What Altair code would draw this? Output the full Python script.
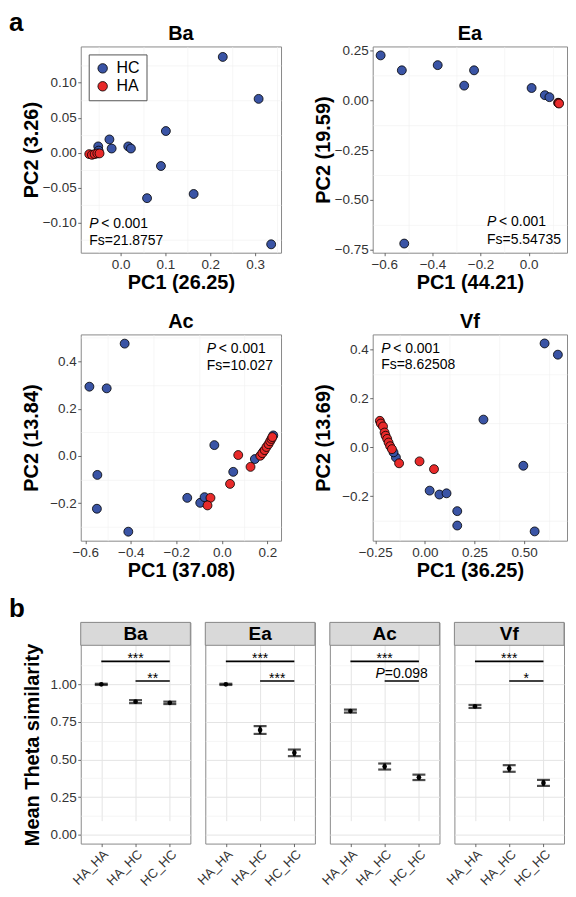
import altair as alt
import pandas as pd

FONT = "Liberation Sans"
BLUE = "#3A54A5"
RED = "#E82A2A"
GRID = "#E4E4E4"
GRID_MINOR = "#F0F0F0"
BORDER = "#8A8A8A"

groups = ["HC", "HA"]
p_text = "< 0.001"
panel_letters = ["a", "b"]

# ---------------- panel a : PCoA ----------------
ba_hc_x = [0.228, 0.308, 0.101, -0.025, -0.020, -0.050, -0.049, 0.017, 0.023, 0.090, 0.163, 0.059, 0.336]
ba_hc_y = [0.137, 0.077, 0.031, 0.019, 0.006, 0.009, 0.003, 0.009, 0.006, -0.019, -0.059, -0.065, -0.131]
ba_ha_x = [-0.070, -0.064, -0.058, -0.052, -0.047]
ba_ha_y = [-0.002, -0.003, -0.002, -0.001, -0.001]

ea_hc_x = [-0.615, -0.527, -0.378, -0.268, -0.227, 0.012, 0.067, 0.086, -0.517]
ea_hc_y = [0.227, 0.152, 0.178, 0.075, 0.152, 0.063, 0.027, 0.017, -0.719]
ea_ha_x = [0.122, 0.124, 0.126]
ea_ha_y = [-0.011, -0.013, -0.015]

ac_hc_x = [-0.427, -0.582, -0.506, -0.033, -0.547, -0.549, -0.411, -0.152, -0.095, -0.076, 0.050, 0.145, 0.182, 0.226]
ac_hc_y = [0.475, 0.293, 0.286, 0.046, -0.080, -0.223, -0.320, -0.177, -0.198, -0.174, -0.067, -0.013, 0.018, 0.087]
ac_ha_x = [-0.050, -0.063, 0.036, 0.126, 0.169, 0.072, 0.178, 0.188, 0.196, 0.205, 0.212, 0.218, 0.222]
ac_ha_y = [-0.177, -0.209, -0.118, -0.046, 0.001, 0.004, 0.012, 0.025, 0.038, 0.050, 0.062, 0.072, 0.080]

vf_hc_x = [0.603, 0.670, 0.295, -0.146, -0.158, 0.496, 0.024, 0.073, 0.109, 0.163, 0.163, 0.553]
vf_hc_y = [0.426, 0.380, 0.114, -0.041, -0.020, -0.075, -0.177, -0.193, -0.188, -0.261, -0.320, -0.344]
vf_ha_x = [-0.227, -0.222, -0.211, -0.203, -0.198, -0.190, -0.183, -0.175, -0.166, -0.130, -0.027, 0.046]
vf_ha_y = [0.109, 0.098, 0.086, 0.061, 0.048, 0.035, 0.020, 0.005, -0.007, -0.065, -0.057, -0.089]

# ---------------- panel b : mean theta similarity ----------------
comparisons = ["HA_HA", "HA_HC", "HC_HC"]
ba_mean = [1.000, 0.885, 0.877]
ba_se = [0.004, 0.010, 0.008]
ea_mean = [1.000, 0.696, 0.544]
ea_se = [0.004, 0.026, 0.022]
ac_mean = [0.822, 0.453, 0.381]
ac_se = [0.010, 0.020, 0.018]
vf_mean = [0.853, 0.440, 0.344]
vf_se = [0.010, 0.022, 0.020]
sig_from = [1, 2]
sig_to = [3, 3]
sig_y = [1.153, 1.022]
ba_sig = ["***", "**"]
ea_sig = ["***", "***"]
ac_sig = ["***", "P=0.098"]
vf_sig = ["***", "*"]

ROW_STEP = 289      # distance between the tops of the rows of plots
PLOT_H = 207
STRIP_H = 23
BPLOT_H = 199
LETTER_X = -72


def minor_axis(vals, orient):
    return alt.Axis(values=vals, grid=True, gridColor=GRID_MINOR, gridWidth=0.6, labels=False,
                    ticks=False, domain=False, title=None, orient=orient)


def scatter(name, hcx, hcy, hax, hay, xdom, ydom, xt, yt, xmin, ymin, xf, yf, xtitle, ytitle,
            annx, anny1, anny2, fs, w, ytp, legend=False):
    pts = pd.DataFrame({"pc1": hcx + hax, "pc2": hcy + hay,
                        "grp": ["HC"] * len(hcx) + ["HA"] * len(hax)})
    ann = pd.DataFrame({"ax": [annx], "ay1": [anny1], "ay2": [anny2], "p": ["P"], "lt": [p_text], "fs": [fs]})
    xs = alt.Scale(domain=xdom, nice=False, zero=False)
    ys = alt.Scale(domain=ydom, nice=False, zero=False)
    if legend:
        leg = alt.Legend(orient="top-left", offset=8, title=None, padding=6, strokeColor="#555",
                         fillColor="white", labelFontSize=16, labelColor="black", symbolSize=90,
                         symbolStrokeColor="black", symbolStrokeWidth=0.8, rowPadding=2,
                         labelOffset=6, symbolType="circle")
    else:
        leg = None
    pts_layer = alt.Chart(pts).mark_circle(size=80, opacity=1, stroke="black", strokeWidth=0.8).encode(
        x=alt.X("pc1:Q", scale=xs, axis=alt.Axis(values=xt, format=xf, title=xtitle, titlePadding=2,
                                                 orient="bottom")),
        y=alt.Y("pc2:Q", scale=ys, axis=alt.Axis(values=yt, format=yf, title=ytitle, titlePadding=ytp,
                                                 orient="left")),
        color=alt.Color("grp:N", scale=alt.Scale(domain=groups, range=[BLUE, RED]), legend=leg),
    )
    p_layer = alt.Chart(ann).mark_text(align="left", baseline="alphabetic", fontSize=14,
                                       fontStyle="italic", color="black").encode(
        x=alt.X("ax:Q", scale=xs, axis=minor_axis(xmin, "bottom")),
        y=alt.Y("ay1:Q", scale=ys, axis=minor_axis(ymin, "left")),
        text="p:N")
    lt_layer = alt.Chart(ann).mark_text(align="left", baseline="alphabetic", fontSize=14, dx=12,
                                        color="black").encode(
        x=alt.X("ax:Q", scale=xs, axis=None), y=alt.Y("ay1:Q", scale=ys, axis=None), text="lt:N")
    fs_layer = alt.Chart(ann).mark_text(align="left", baseline="alphabetic", fontSize=14,
                                        color="black").encode(
        x=alt.X("ax:Q", scale=xs, axis=None), y=alt.Y("ay2:Q", scale=ys, axis=None), text="fs:N")
    title_layer = alt.Chart(pd.DataFrame({"t": [name]})).mark_text(
        align="center", baseline="alphabetic", fontSize=20, fontWeight="bold", color="black").encode(
        x=alt.value(w / 2), y=alt.value(-6), text="t:N")
    layers = [p_layer, lt_layer, fs_layer, pts_layer, title_layer]
    return alt.layer(*layers).resolve_axis(x="independent", y="independent").properties(
        width=w, height=PLOT_H)


def bpanel(name, mean, se, sig, first, letters=False):
    df = pd.DataFrame({"pos": [1, 2, 3], "grp": comparisons, "mean": mean, "se": se})
    df["lo"] = df["mean"] - df["se"]
    df["hi"] = df["mean"] + df["se"]
    sdf = pd.DataFrame({"x1": sig_from, "x2": sig_to, "ly": sig_y,
                        "tx": [(a + b) / 2 for a, b in zip(sig_from, sig_to)], "lab": sig})
    stars = sdf[~sdf["lab"].str.startswith("P=")]
    pvals = sdf[sdf["lab"].str.startswith("P=")].copy()
    pvals["pp"] = "P"
    pvals["rest"] = pvals["lab"].str[1:]

    H = STRIP_H + BPLOT_H
    xs = alt.Scale(domain=[0.4, 3.6], nice=False, zero=False)
    ys = alt.Scale(domain=[-0.06, 1.26], range=[H, STRIP_H], nice=False, zero=False)
    expr = "datum.value == 1 ? '%s' : datum.value == 2 ? '%s' : '%s'" % tuple(comparisons)
    xaxis = alt.Axis(values=[1, 2, 3], labelExpr=expr, labelAngle=-45, labelAlign="right",
                     labelBaseline="top", labelFontSize=13, labelOverlap=False, labelPadding=1,
                     title=None, grid=True, orient="bottom")
    if first:
        ymaj = alt.Axis(values=[0, 0.25, 0.5, 0.75, 1.0], format=".2f", title="Mean Theta similarity",
                        titlePadding=8, orient="left")
    else:
        ymaj = alt.Axis(values=[0, 0.25, 0.5, 0.75, 1.0], labels=False, ticks=False, title=None,
                        orient="left")

    def X(f):
        return alt.X(f, scale=xs, axis=xaxis)

    bar = alt.Chart(df).mark_rule(color="black", strokeWidth=2.6).encode(
        x=X("pos:Q"), y=alt.Y("lo:Q", scale=ys, axis=ymaj), y2="hi:Q")
    cap_lo = alt.Chart(df).mark_tick(orient="horizontal", size=13, thickness=2.2, color="black").encode(
        x=X("pos:Q"), y=alt.Y("lo:Q", scale=ys, axis=None))
    cap_hi = alt.Chart(df).mark_tick(orient="horizontal", size=13, thickness=2.2, color="black").encode(
        x=X("pos:Q"), y=alt.Y("hi:Q", scale=ys, axis=None))
    pt = alt.Chart(df).mark_circle(size=22, color="black", opacity=1).encode(
        x=X("pos:Q"), y=alt.Y("mean:Q", scale=ys,
                              axis=minor_axis([0.125, 0.375, 0.625, 0.875, 1.125], "left")))
    sline = alt.Chart(sdf).mark_rule(color="black", strokeWidth=1.6).encode(
        x=X("x1:Q"), x2="x2:Q", y=alt.Y("ly:Q", scale=ys, axis=None))
    layers = [bar, cap_lo, cap_hi, pt, sline]
    if len(stars):
        layers.append(alt.Chart(stars).mark_text(fontSize=14, baseline="alphabetic", dy=2,
                                                 color="black").encode(
            x=X("tx:Q"), y=alt.Y("ly:Q", scale=ys, axis=None), text="lab:N"))
    if len(pvals):
        layers.append(alt.Chart(pvals).mark_text(fontSize=14, baseline="alphabetic", dy=-3, dx=-17,
                                                 align="right", fontStyle="italic", color="black").encode(
            x=X("tx:Q"), y=alt.Y("ly:Q", scale=ys, axis=None), text="pp:N"))
        layers.append(alt.Chart(pvals).mark_text(fontSize=14, baseline="alphabetic", dy=-3, dx=-17,
                                                 align="left", color="black").encode(
            x=X("tx:Q"), y=alt.Y("ly:Q", scale=ys, axis=None), text="rest:N"))
    strip = pd.DataFrame({"t": [name]})
    layers.append(alt.Chart(strip).mark_rect(fill="#D9D9D9", stroke=BORDER, strokeWidth=1).encode(
        x=alt.value(0), x2=alt.value(110), y=alt.value(0), y2=alt.value(STRIP_H)))
    layers.append(alt.Chart(strip).mark_text(fontSize=19, fontWeight="bold", baseline="middle",
                                             color="black").encode(
        x=alt.value(55), y=alt.value(12), text="t:N"))
    if letters:
        # panel letters "a" (above the PCoA plots) and "b" (above the strips)
        layers.append(alt.Chart(pd.DataFrame({"t": [panel_letters[0]]})).mark_text(
            align="left", baseline="alphabetic", fontSize=26, fontWeight="bold", color="black").encode(
            x=alt.value(LETTER_X), y=alt.value(-2 * ROW_STEP - 15), text="t:N"))
        layers.append(alt.Chart(pd.DataFrame({"t": [panel_letters[1]]})).mark_text(
            align="left", baseline="alphabetic", fontSize=26, fontWeight="bold", color="black").encode(
            x=alt.value(LETTER_X), y=alt.value(-5), text="t:N"))
    return alt.layer(*layers).resolve_axis(y="independent").properties(width=110, height=H)


ba = scatter("Ba", ba_hc_x, ba_hc_y, ba_ha_x, ba_ha_y, [-0.089, 0.358], [-0.143, 0.152],
             [0.0, 0.1, 0.2, 0.3], [-0.10, -0.05, 0.0, 0.05, 0.10],
             [-0.05, 0.05, 0.15, 0.25, 0.35], [-0.125, -0.075, -0.025, 0.025, 0.075, 0.125],
             ".1f", ".2f", "PC1 (26.25)", "PC2 (3.26)", -0.070, -0.108, -0.132, "Fs=21.8757",
             201, 1, legend=True)
ea = scatter("Ea", ea_hc_x, ea_hc_y, ea_ha_x, ea_ha_y, [-0.648, 0.159], [-0.765, 0.272],
             [-0.6, -0.4, -0.2, 0.0], [-0.75, -0.5, -0.25, 0.0, 0.25],
             [-0.5, -0.3, -0.1, 0.1], [-0.625, -0.375, -0.125, 0.125],
             ".1f", ".2f", "PC1 (44.21)", "PC2 (19.59)", -0.173, -0.630, -0.722, "Fs=5.54735",
             195, 1)
ac = scatter("Ac", ac_hc_x, ac_hc_y, ac_ha_x, ac_ha_y, [-0.620, 0.260], [-0.358, 0.514],
             [-0.6, -0.4, -0.2, 0.0, 0.2], [-0.2, 0.0, 0.2, 0.4],
             [-0.5, -0.3, -0.1, 0.1], [-0.3, -0.1, 0.1, 0.3, 0.5],
             ".1f", ".1f", "PC1 (37.08)", "PC2 (13.84)", -0.066, 0.437, 0.363, "Fs=10.027",
             201, 8.6)
vf = scatter("Vf", vf_hc_x, vf_hc_y, vf_ha_x, vf_ha_y, [-0.263, 0.716], [-0.382, 0.463],
             [-0.25, 0.0, 0.25, 0.5], [-0.2, 0.0, 0.2, 0.4],
             [-0.125, 0.125, 0.375, 0.625], [-0.3, -0.1, 0.1, 0.3],
             ".2f", ".1f", "PC1 (36.25)", "PC2 (13.69)", -0.220, 0.388, 0.320, "Fs=8.62508",
             195, 8.6)

b1 = bpanel("Ba", ba_mean, ba_se, ba_sig, True, letters=True)
b2 = bpanel("Ea", ea_mean, ea_se, ea_sig, False)
b3 = bpanel("Ac", ac_mean, ac_se, ac_sig, False)
b4 = bpanel("Vf", vf_mean, vf_se, vf_sig, False)


def indep(c):
    return c.resolve_scale(x="independent", y="independent", color="independent").resolve_legend(
        color="independent")


row1 = indep(alt.hconcat(ba, ea, spacing=92, bounds="flush"))
row2 = indep(alt.hconcat(ac, vf, spacing=92, bounds="flush"))
row3 = indep(alt.hconcat(b1, b2, b3, b4, spacing=15, bounds="flush"))

chart = indep(alt.vconcat(row1, row2, row3, spacing=ROW_STEP, bounds="flush")).properties(
    padding=0
).configure(
    font=FONT
).configure_view(
    stroke=BORDER, strokeWidth=1
).configure_axis(
    labelFont=FONT, labelFontSize=13.5, labelColor="#333", labelPadding=1.5, labelFlush=False,
    titleFont=FONT, titleFontSize=20, titleFontWeight="bold", titleColor="black",
    tickColor="#444", tickSize=3, tickWidth=0.8, domain=False, gridColor=GRID, gridWidth=1,
).configure_title(font=FONT, color="black").configure_legend(labelFont=FONT)

chart.save("out.html", embed_options={"renderer": "svg", "actions": False})
